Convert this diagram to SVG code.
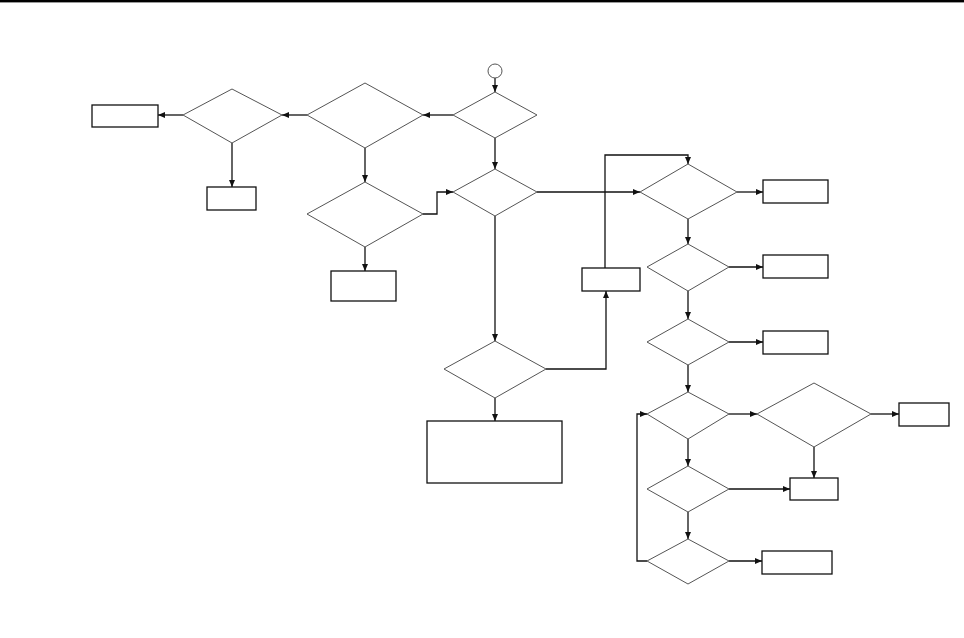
<svg xmlns="http://www.w3.org/2000/svg" width="964" height="638" viewBox="0 0 964 638">
<style>
.d{fill:#fff;stroke:#555;stroke-width:1}
.b{fill:#fff;stroke:#111;stroke-width:1.3}
.c{fill:none;stroke:#111;stroke-width:1.3}
</style>
<defs>
<marker id="ar" markerUnits="userSpaceOnUse" markerWidth="8" markerHeight="6" refX="7" refY="3" orient="auto">
<path d="M0,0 L7,3 L0,6 z" fill="#111"/>
</marker>
</defs>
<rect x="0" y="0" width="964" height="2.4" fill="#000"/>
<g id="connectors">
<path class="c" d="M495,78 L495,92" marker-end="url(#ar)"/>
<path class="c" d="M453,115 L423,115" marker-end="url(#ar)"/>
<path class="c" d="M307,115 L282,115" marker-end="url(#ar)"/>
<path class="c" d="M183,115 L158,115" marker-end="url(#ar)"/>
<path class="c" d="M232,143 L232,187" marker-end="url(#ar)"/>
<path class="c" d="M365,148 L365,182" marker-end="url(#ar)"/>
<path class="c" d="M365,247 L365,271" marker-end="url(#ar)"/>
<path class="c" d="M423,214 L437,214 L437,192 L453,192" marker-end="url(#ar)"/>
<path class="c" d="M495,138 L495,169" marker-end="url(#ar)"/>
<path class="c" d="M537,192 L640,192" marker-end="url(#ar)"/>
<path class="c" d="M495,216 L495,341" marker-end="url(#ar)"/>
<path class="c" d="M546,369 L606,369 L606,291" marker-end="url(#ar)"/>
<path class="c" d="M495,398 L495,421" marker-end="url(#ar)"/>
<path class="c" d="M605,268 L605,155 L688,155 L688,164" marker-end="url(#ar)"/>
<path class="c" d="M737,192 L763,192" marker-end="url(#ar)"/>
<path class="c" d="M688,219 L688,244" marker-end="url(#ar)"/>
<path class="c" d="M729,267 L763,267" marker-end="url(#ar)"/>
<path class="c" d="M688,291 L688,319" marker-end="url(#ar)"/>
<path class="c" d="M729,342 L763,342" marker-end="url(#ar)"/>
<path class="c" d="M688,365 L688,392" marker-end="url(#ar)"/>
<path class="c" d="M729,414 L757,414" marker-end="url(#ar)"/>
<path class="c" d="M871,414 L899,414" marker-end="url(#ar)"/>
<path class="c" d="M814,447 L814,478" marker-end="url(#ar)"/>
<path class="c" d="M688,439 L688,466" marker-end="url(#ar)"/>
<path class="c" d="M729,489 L790,489" marker-end="url(#ar)"/>
<path class="c" d="M688,512 L688,539" marker-end="url(#ar)"/>
<path class="c" d="M729,561 L762,561" marker-end="url(#ar)"/>
<path class="c" d="M647,561 L637,561 L637,414 L647,414" marker-end="url(#ar)"/>
</g>
<g id="start"><circle cx="495" cy="71" r="7" fill="#fff" stroke="#555" stroke-width="1"/></g>
<g id="d4"><polygon class="d" points="495,92 537,115 495,138 453,115"/></g>
<g id="d2"><polygon class="d" points="365,83 423,115 365,148 307,115"/></g>
<g id="d1"><polygon class="d" points="232,89 282,115 232,143 183,115"/></g>
<g id="boxA"><rect class="b" x="92" y="105" width="66" height="22"/></g>
<g id="boxB"><rect class="b" x="207" y="187" width="49" height="23"/></g>
<g id="d3"><polygon class="d" points="365,182 423,214 365,247 307,214"/></g>
<g id="boxC"><rect class="b" x="331" y="271" width="65" height="30"/></g>
<g id="d5"><polygon class="d" points="495,169 537,192 495,216 453,192"/></g>
<g id="d8"><polygon class="d" points="495,341 546,369 495,398 444,369"/></g>
<g id="boxG"><rect class="b" x="427" y="421" width="135" height="62"/></g>
<g id="boxE"><rect class="b" x="582" y="268" width="58" height="23"/></g>
<g id="d6"><polygon class="d" points="688,164 737,192 688,219 640,192"/></g>
<g id="boxF1"><rect class="b" x="763" y="180" width="65" height="23"/></g>
<g id="d7"><polygon class="d" points="688,244 729,267 688,291 647,267"/></g>
<g id="boxF2"><rect class="b" x="763" y="255" width="65" height="23"/></g>
<g id="d9"><polygon class="d" points="688,319 729,342 688,365 647,342"/></g>
<g id="boxF3"><rect class="b" x="763" y="331" width="65" height="23"/></g>
<g id="d10"><polygon class="d" points="688,392 729,414 688,439 647,414"/></g>
<g id="d11"><polygon class="d" points="814,383 871,414 814,447 757,414"/></g>
<g id="boxH"><rect class="b" x="899" y="403" width="50" height="23"/></g>
<g id="boxI"><rect class="b" x="790" y="478" width="48" height="22"/></g>
<g id="d12"><polygon class="d" points="688,466 729,489 688,512 647,489"/></g>
<g id="d13"><polygon class="d" points="688,539 729,561 688,584 647,561"/></g>
<g id="boxJ"><rect class="b" x="762" y="551" width="70" height="23"/></g>
</svg>
